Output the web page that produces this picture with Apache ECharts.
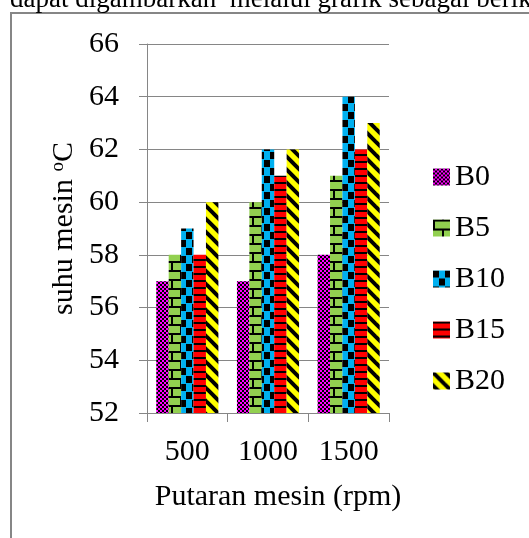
<!DOCTYPE html>
<html>
<head>
<meta charset="utf-8">
<script src="https://cdn.jsdelivr.net/npm/echarts@6/dist/echarts.min.js"></script>
<style>
html, body { margin: 0; padding: 0; background: #fff; }
#chart { width: 529px; height: 538px; }
</style>
</head>
<body>
<div id="chart"></div>
<script>
// data
var categories = ['500', '1000', '1500'];
var seriesNames = ['B0', 'B5', 'B10', 'B15', 'B20'];
var b0 = [57, 57, 58];
var b5 = [58, 60, 61];
var b10 = [59, 62, 64];
var b15 = [58, 61, 62];
var b20 = [60, 62, 63];
var yMin = 52, yMax = 66, yStep = 2;

var serif = '"Liberation Serif", "Times New Roman", serif';
var gray = '#868686';

// pattern fills (excel style)
function makePattern(w, h, draw) {
  var c = document.createElement('canvas');
  c.width = w;
  c.height = h;
  draw(c.getContext('2d'), w, h);
  return { image: c, repeat: 'repeat' };
}

var pB0 = makePattern(4, 4, function (ctx, w, h) {
  ctx.fillStyle = '#FF00FF';
  ctx.fillRect(0, 0, w, h);
  ctx.fillStyle = '#000';
  ctx.fillRect(0, 0, 2, 2);
  ctx.fillRect(2, 2, 2, 2);
});
var pB5 = makePattern(18, 18, function (ctx, w, h) {
  ctx.fillStyle = '#92D050';
  ctx.fillRect(0, 0, w, h);
  ctx.fillStyle = '#000';
  ctx.fillRect(0, 0, w, 2);   // bata
  ctx.fillRect(0, 9, w, 2);
  ctx.fillRect(0, 0, 2, 9);
  ctx.fillRect(9, 9, 2, 9);
});
var pB10 = makePattern(12, 16, function (ctx, w, h) {
  ctx.fillStyle = '#00B0F0';
  ctx.fillRect(0, 0, w, h);
  ctx.fillStyle = '#000';
  ctx.fillRect(0, 0, 6, 7);
  ctx.fillRect(6, 8, 6, 7);
});
var pB15 = makePattern(8, 7, function (ctx, w, h) {
  ctx.fillStyle = '#FF0000';
  ctx.fillRect(0, 0, w, h);
  ctx.fillStyle = '#000';
  ctx.fillRect(0, 0, w, 2);
});
var pB20 = makePattern(13, 13, function (ctx, w, h) {
  ctx.fillStyle = '#FFFF00';
  ctx.fillRect(0, 0, w, h);
  ctx.strokeStyle = '#000';
  ctx.lineWidth = 4;
  for (var k = -1; k <= 1; k++) {
    ctx.beginPath();
    ctx.moveTo(k * w - 2, -2);
    ctx.lineTo(k * w + w + 2, h + 2);
    ctx.stroke();
  }
});

var seriesData = [b0, b5, b10, b15, b20];
var patterns = [pB0, pB5, pB10, pB15, pB20];

var series = [];
for (var i = 0; i < seriesNames.length; i++) {
  series.push({
    name: seriesNames[i],
    type: 'bar',
    barGap: 0,
    barCategoryGap: '23%',
    itemStyle: { color: patterns[i] },
    emphasis: { disabled: true },
    data: seriesData[i]
  });
}

var option = {
  animation: false,
  textStyle: { fontFamily: serif },
  graphic: [
    {
      type: 'rect',
      silent: true,
      z: -10,
      shape: { x: 11, y: 13, width: 700, height: 700 },
      style: { fill: 'none', stroke: gray, lineWidth: 2 }
    },
    {
      type: 'text',
      silent: true,
      x: 10,
      y: 13,
      style: {
        text: 'dapat digambarkan  melalui grafik sebagai berikut',
        font: '27px ' + serif,
        fill: '#000',
        verticalAlign: 'bottom'
      }
    }
  ],
  grid: {
    left: 147,
    right: 140,
    top: 44,
    bottom: 125
  },
  legend: {
    orient: 'vertical',
    left: 433,
    top: 162,
    padding: 0,
    icon: 'rect',
    itemWidth: 17,
    itemHeight: 17,
    itemGap: 21,
    textStyle: { fontSize: 30, lineHeight: 30, color: '#000', fontFamily: serif },
    data: seriesNames
  },
  xAxis: {
    type: 'category',
    data: categories,
    name: 'Putaran mesin (rpm)',
    nameLocation: 'middle',
    nameGap: 69,
    nameTextStyle: { fontSize: 30, color: '#000', fontFamily: serif, padding: [0, 0, 0, 20] },
    axisLine: { lineStyle: { color: gray, width: 1 } },
    axisTick: { show: true, length: 9, lineStyle: { color: gray } },
    axisLabel: { fontSize: 30, color: '#000', margin: 24, fontFamily: serif }
  },
  yAxis: {
    type: 'value',
    min: yMin,
    max: yMax,
    interval: yStep,
    name: 'suhu mesin {sup|o}C',
    nameLocation: 'middle',
    nameGap: 68,
    nameTextStyle: {
      fontSize: 30, color: '#000', fontFamily: serif,
      rich: {
        sup: { fontSize: 19, color: '#000', fontFamily: serif, verticalAlign: 'top' }
      }
    },
    axisLine: { show: true, lineStyle: { color: gray, width: 1 } },
    axisTick: { show: true, length: 8, lineStyle: { color: gray } },
    splitLine: { show: true, lineStyle: { color: gray, width: 1 } },
    axisLabel: { fontSize: 30, color: '#000', margin: 28, fontFamily: serif }
  },
  series: series
};

echarts.init(document.getElementById('chart')).setOption(option);
</script>
</body>
</html>
